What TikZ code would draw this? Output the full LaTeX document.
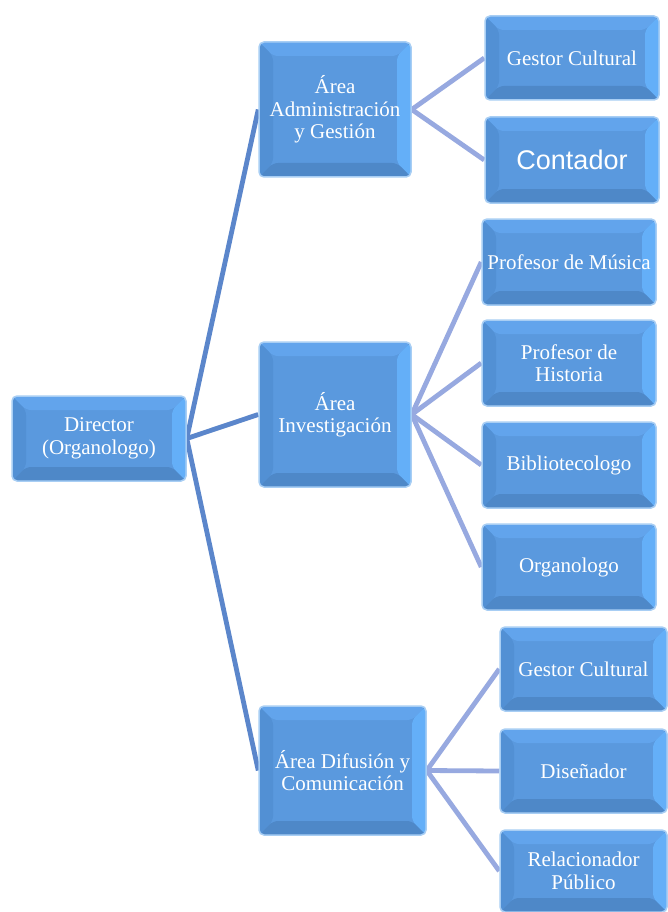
\documentclass[tikz,border=0pt]{standalone}
\usepackage{fontspec}
\setmainfont{Liberation Serif}
\newfontfamily\arialfont{Liberation Sans}
\usetikzlibrary{backgrounds}
\definecolor{boxmain}{HTML}{5A99DE}
\definecolor{boxtop}{HTML}{62A4EC}
\definecolor{boxright}{HTML}{64AFF8}
\definecolor{boxleft}{HTML}{5290D4}
\definecolor{boxbottom}{HTML}{4E88C8}
\definecolor{boxglow}{HTML}{A8CEF4}
\definecolor{linkone}{HTML}{5B86CB}
\definecolor{linktwo}{HTML}{97A9E0}
\tikzset{
  bevelbox/.style={
    rectangle, rounded corners=5pt, draw=boxglow, line width=1.5pt, fill=boxmain,
    text=white, align=center, inner sep=2pt,
    font=\fontsize{21}{22.5}\selectfont,
    path picture={
      \fill[boxtop] (path picture bounding box.north west) -- (path picture bounding box.north east)
        -- ([xshift=-14pt,yshift=-14pt]path picture bounding box.north east)
        -- ([xshift=14pt,yshift=-14pt]path picture bounding box.north west) -- cycle;
      \fill[boxleft] (path picture bounding box.north west) -- ([xshift=14pt,yshift=-14pt]path picture bounding box.north west)
        -- ([xshift=14pt,yshift=14pt]path picture bounding box.south west)
        -- (path picture bounding box.south west) -- cycle;
      \fill[boxright] (path picture bounding box.north east) -- ([xshift=-14pt,yshift=-14pt]path picture bounding box.north east)
        -- ([xshift=-14pt,yshift=14pt]path picture bounding box.south east)
        -- (path picture bounding box.south east) -- cycle;
      \fill[boxbottom] (path picture bounding box.south west) -- ([xshift=14pt,yshift=14pt]path picture bounding box.south west)
        -- ([xshift=-14pt,yshift=14pt]path picture bounding box.south east)
        -- (path picture bounding box.south east) -- cycle;
    }
  },
  linkA/.style={draw=linkone, line width=4.8pt},
  linkB/.style={draw=linktwo, line width=4.8pt},
}
\begin{document}
\begin{tikzpicture}[x=1pt,y=-1pt]
\useasboundingbox (0,0) rectangle (667,912);
% level 0
\node[bevelbox, minimum width=174pt, minimum height=85pt] (dir) at (99,438.5) {Director\\(Organologo)};
% level 1
\node[bevelbox, minimum width=152pt, minimum height=135pt] (adm) at (335,109.5) {Área\\Administración\\y Gestión};
\node[bevelbox, minimum width=152pt, minimum height=145pt] (inv) at (335,414.5) {Área\\Investigación};
\node[bevelbox, minimum width=167pt, minimum height=129pt] (dif) at (342.5,770.5) {Área Difusión y\\Comunicación};
% level 2
\node[bevelbox, minimum width=174pt, minimum height=84pt] (gc1) at (572,58) {Gestor Cultural};
\node[bevelbox, minimum width=174pt, minimum height=86pt, font=\arialfont\fontsize{27}{30}\selectfont] (con) at (572,160) {Contador};
\node[bevelbox, minimum width=174pt, minimum height=86pt] (pm) at (569,262) {Profesor de Música};
\node[bevelbox, minimum width=174pt, minimum height=86pt] (ph) at (569,363) {Profesor de\\Historia};
\node[bevelbox, minimum width=174pt, minimum height=86pt] (bib) at (569,465) {Bibliotecologo};
\node[bevelbox, minimum width=174pt, minimum height=86pt] (org) at (569,567) {Organologo};
\node[bevelbox, minimum width=167pt, minimum height=84pt] (gc2) at (583.5,669) {Gestor Cultural};
\node[bevelbox, minimum width=167pt, minimum height=84pt] (dis) at (583.5,771) {Diseñador};
\node[bevelbox, minimum width=167pt, minimum height=82pt] (rel) at (583.5,871) {Relacionador\\Público};
\begin{scope}[on background layer]
\fill[white] (0,0) rectangle (667,912);
\draw[linkA] (dir.east) -- (adm.west);
\draw[linkA] (dir.east) -- (inv.west);
\draw[linkA] (dir.east) -- (dif.west);
\draw[linkB] (adm.east) -- (gc1.west);
\draw[linkB] (adm.east) -- (con.west);
\draw[linkB] (inv.east) -- (pm.west);
\draw[linkB] (inv.east) -- (ph.west);
\draw[linkB] (inv.east) -- (bib.west);
\draw[linkB] (inv.east) -- (org.west);
\draw[linkB] (dif.east) -- (gc2.west);
\draw[linkB] (dif.east) -- (dis.west);
\draw[linkB] (dif.east) -- (rel.west);
\end{scope}
\end{tikzpicture}
\end{document}
